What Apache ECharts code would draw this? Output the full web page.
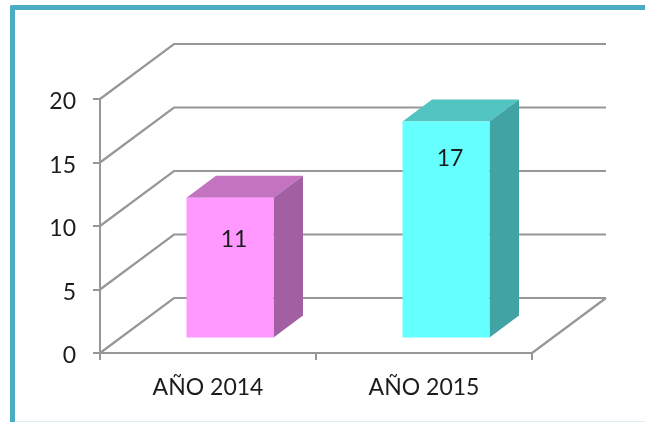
<!DOCTYPE html>
<html><head><meta charset="utf-8">
<style>html,body{margin:0;padding:0;background:#fff}#c{width:645px;height:422px}</style>
<script src="https://cdn.jsdelivr.net/npm/echarts@6/dist/echarts.min.js"></script>
</head><body><div id="c"></div>
<script>
const categories = ['AÑO 2014', 'AÑO 2015'];
const values = [11, 17];
const yTicks = [0, 5, 10, 15, 20];
const frontColors = ['#FF99FF', '#66FFFF'];
const topColors = ['#C373C0', '#52C4C2'];
const sideColors = ['#A260A2', '#41A3A3'];
const labelDrops = [42, 37];

const GRID_COLOR = '#979797';
const TEXT_COLOR = '#1c1c1c';
const WALL_DX = 74, WALL_DY = -55;
const BAR_W = 87, BAR_SHIFT_X = 22, BAR_SHIFT_Y = -15.5, DEPTH_X = 29.5, DEPTH_Y = -22;

const chart = echarts.init(document.getElementById('c'), null, {renderer: 'canvas'});

function wall(params, api) {
  const p = api.coord([0, api.value(1)]);
  const cs = params.coordSys;
  const x0 = cs.x, x1 = cs.x + cs.width, y = p[1];
  const children = [{
    type: 'polyline',
    shape: {points: [[x0, y], [x0 + WALL_DX, y + WALL_DY], [x1 + WALL_DX, y + WALL_DY]]},
    style: {stroke: GRID_COLOR, lineWidth: 2.2, fill: null}
  }];
  if (api.value(1) === 0) {
    children.push({
      type: 'line',
      shape: {x1: x1, y1: y, x2: x1 + WALL_DX, y2: y + WALL_DY},
      style: {stroke: GRID_COLOR, lineWidth: 2.2}
    });
  }
  return {type: 'group', children};
}

function bar(params, api) {
  const i = api.value(0);
  const t = api.coord([i, api.value(1)]);
  const b = api.coord([i, 0]);
  const l = t[0] + BAR_SHIFT_X - BAR_W / 2, r = l + BAR_W;
  const top = t[1] + BAR_SHIFT_Y, bot = b[1] + BAR_SHIFT_Y;
  return {type: 'group', children: [
    {type: 'polygon', shape: {points: [[l, top], [r, top], [r + DEPTH_X, top + DEPTH_Y], [l + DEPTH_X, top + DEPTH_Y]]},
      style: {fill: topColors[i]}},
    {type: 'polygon', shape: {points: [[r, top], [r + DEPTH_X, top + DEPTH_Y], [r + DEPTH_X, bot + DEPTH_Y], [r, bot]]},
      style: {fill: sideColors[i]}},
    {type: 'rect', shape: {x: l, y: top, width: BAR_W, height: bot - top}, style: {fill: frontColors[i]}},
    {type: 'text', x: (l + r) / 2 + 4, y: top + labelDrops[i],
      style: {text: String(api.value(1)), fill: TEXT_COLOR, font: '23px Lato', align: 'center', verticalAlign: 'middle'}}
  ]};
}

chart.setOption({
  animation: false,
  backgroundColor: '#fff',
  grid: {left: 100, right: 113, top: 99, bottom: 69},
  xAxis: {
    type: 'category', data: categories,
    axisLine: {lineStyle: {color: GRID_COLOR, width: 2}},
    axisTick: {show: true, length: 7, alignWithLabel: false, lineStyle: {color: GRID_COLOR, width: 2}},
    axisLabel: {color: TEXT_COLOR, fontFamily: 'Lato', fontSize: 23, margin: 23},
    splitLine: {show: false}
  },
  yAxis: {
    type: 'value', min: 0, max: 20, interval: 5,
    axisLine: {show: true, lineStyle: {color: GRID_COLOR, width: 2}},
    axisTick: {show: true, length: 7, lineStyle: {color: GRID_COLOR, width: 2}},
    axisLabel: {
      margin: 24,
      formatter: '{v|{value}}',
      rich: {v: {color: TEXT_COLOR, fontFamily: 'Lato', fontSize: 23, padding: [6, 0, 0, 0]}}
    },
    splitLine: {show: false}
  },
  graphic: [
    {type: 'rect', shape: {x: 10, y: 5, width: 5, height: 417, r: [2, 0, 0, 0]}, style: {fill: '#4BACC6'}, z: 10},
    {type: 'rect', shape: {x: 10, y: 5, width: 635, height: 5, r: [2, 0, 0, 0]}, style: {fill: '#4BACC6'}, z: 10},
    {type: 'rect', shape: {x: 15, y: 421, width: 630, height: 1}, style: {fill: '#DAEEF3'}, z: 10}
  ],
  series: [
    {type: 'custom', name: 'grid', renderItem: wall, clip: false, silent: true, z: 1,
      data: yTicks.map(v => [0, v])},
    {type: 'custom', name: 'values', renderItem: bar, clip: false, z: 3,
      data: values.map((v, i) => [i, v])}
  ]
});
</script></body></html>
